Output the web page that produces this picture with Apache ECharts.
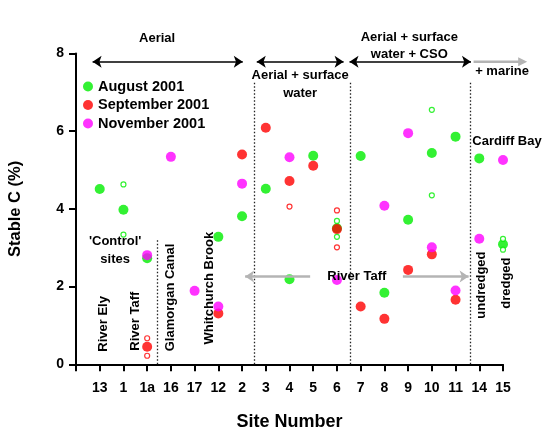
<!DOCTYPE html>
<html><head><meta charset="utf-8">
<script src="https://cdn.jsdelivr.net/npm/echarts@6/dist/echarts.min.js"></script>
<style>html,body{margin:0;padding:0;background:#fff}#c{width:544px;height:430px}</style>
</head><body><div id="c"></div>
<script>
// ---- data ----
const categories = ['13','1','1a','16','17','12','2','3','4','5','6','7','8','9','10','11','14','15'];
const yTicks = [0, 2, 4, 6, 8];
const augFilled = [['13',4.51],['1',3.98],['1a',2.73],['12',3.28],['2',3.81],['3',4.52],['4',2.19],['5',5.37],['6',3.50],['7',5.36],['8',1.84],['9',3.72],['10',5.44],['11',5.86],['14',5.30],['15',3.09]];
const augHollow = [['1',4.63],['1',3.34],['6',3.69],['6',3.28],['10',6.55],['10',4.35],['15',3.23],['15',2.95]];
const sepFilled = [['1a',0.45],['12',1.31],['2',5.40],['3',6.09],['4',4.72],['5',5.11],['6',3.48],['7',1.49],['8',1.17],['9',2.43],['10',2.83],['11',1.66]];
const sepHollow = [['1a',0.67],['1a',0.22],['4',4.06],['6',3.96],['6',3.01]];
const novFilled = [['1a',2.81],['16',5.34],['17',1.89],['12',1.49],['2',4.65],['4',5.33],['6',2.17],['8',4.08],['9',5.95],['10',3.01],['11',1.90],['14',3.23],['15',5.26]];
const seriesNames = ['August 2001','September 2001','November 2001'];

const GREEN = '#00ee00', RED = '#ff0000', MAG = '#ff00ff', GRAY = '#b4b4b4';
const FONT = 'Liberation Sans, Arial, sans-serif';

const toXY = arr => arr.map(d => [categories.indexOf(d[0]) + 1, d[1]]);

// annotation layout (data coordinates)
const dividers = [[3.43, 3.24], [7.52, 7.27], [11.56, 7.27], [16.6, 7.27]];
const arrows = [
  {from:[0.70,7.79], to:[7.03,7.79], both:true, color:'#000'},
  {from:[7.62,7.79], to:[11.28,7.79], both:true, color:'#000'},
  {from:[11.53,7.79], to:[16.65,7.79], both:true, color:'#000'},
  {from:[9.87,2.26], to:[7.13,2.26], both:false, color:GRAY},
  {from:[13.78,2.26], to:[16.55,2.26], both:false, color:GRAY}
];
const outerArrow = {from:[16.76,7.79], to:[19.02,7.79], color:GRAY};
const notes = [
  {t:'Aerial', p:[3.42,8.40]},
  {t:'Aerial + surface\nwater', p:[9.45,7.20]},
  {t:'Aerial + surface\nwater + CSO', p:[14.05,8.20]},
  {t:'+ marine', p:[17.96,7.53]},
  {t:'Cardiff Bay', p:[18.17,5.73]},
  {t:"'Control'\nsites", p:[1.65,2.93]},
  {t:'River Taff', p:[11.84,2.25]},
  {t:'River Ely', p:[1.15,1.04], r:true},
  {t:'River Taff', p:[2.49,1.11], r:true},
  {t:'Glamorgan Canal', p:[3.97,1.72], r:true},
  {t:'Whitchurch Brook', p:[5.61,1.96], r:true},
  {t:'undredged', p:[17.09,2.04], r:true},
  {t:'dredged', p:[18.13,2.09], r:true}
];

const markLineData = [];
dividers.forEach(d => markLineData.push([
  {coord:[d[0],0], symbol:'none', lineStyle:{color:'#222', width:1.3, type:[1.5,2]}},
  {coord:[d[0],d[1]], symbol:'none'}
]));
arrows.forEach(a => markLineData.push([
  {coord:a.from, symbol:a.both?'arrow':'none', symbolSize:9, lineStyle:{color:a.color, width:a.color==='#000'?1.5:2.5, type:'solid'}},
  {coord:a.to, symbol:'arrow', symbolSize:9}
]));

const filledStyle = c => ({color:c, borderWidth:0});
const hollowStyle = c => ({color:'#fff', borderColor:c, borderWidth:1.2});

const option = {
  animation:false,
  backgroundColor:'#fff',
  grid:{left:76, right:41, top:53.5, bottom:65.7, containLabel:false, outerBoundsMode:'none'},
  legend:{
    data:seriesNames, orient:'vertical', left:78, top:74, itemWidth:10, itemHeight:10, itemGap:3.5,
    icon:'circle', textStyle:{fontFamily:FONT, fontWeight:'bold', fontSize:14.5, color:'#000'},
    selectedMode:false
  },
  xAxis:{
    type:'value', min:0, max:18, interval:1,
    name:'Site Number', nameLocation:'middle', nameGap:49,
    nameTextStyle:{fontFamily:FONT, fontWeight:'bold', fontSize:18, color:'#000'},
    axisLine:{show:true, onZero:false, lineStyle:{color:'#000', width:2}},
    axisTick:{show:true, length:7, lineStyle:{color:'#000', width:2}},
    axisLabel:{fontFamily:FONT, fontWeight:'bold', fontSize:14, color:'#000', margin:17,
      formatter:v => (v>=1 && v<=categories.length) ? categories[v-1] : ''},
    splitLine:{show:false}
  },
  yAxis:{
    type:'value', min:yTicks[0], max:yTicks[yTicks.length-1], interval:2,
    name:'Stable C (%)', nameLocation:'middle', nameGap:52,
    nameTextStyle:{fontFamily:FONT, fontWeight:'bold', fontSize:16.5, color:'#000'},
    axisLine:{show:true, lineStyle:{color:'#000', width:2}},
    axisTick:{show:true, length:7, lineStyle:{color:'#000', width:2}},
    axisLabel:{fontFamily:FONT, fontWeight:'bold', fontSize:14, color:'#000', margin:12},
    splitLine:{show:false}
  },
  series:[
    {name:seriesNames[0], type:'scatter', symbolSize:10, data:toXY(augFilled), itemStyle:filledStyle(GREEN), z:2},
    {name:seriesNames[1], type:'scatter', symbolSize:10, data:toXY(sepFilled), itemStyle:filledStyle(RED), z:3},
    {name:seriesNames[2], type:'scatter', symbolSize:10, data:toXY(novFilled), itemStyle:filledStyle(MAG), z:4},
    {name:'aug-rep', type:'scatter', symbolSize:5, data:toXY(augHollow), itemStyle:hollowStyle(GREEN), z:5},
    {name:'sep-rep', type:'scatter', symbolSize:5, data:toXY(sepHollow), itemStyle:hollowStyle(RED), z:5},
    {name:'annot', type:'line', data:[], clip:false, silent:true,
      markLine:{silent:true, animation:false, label:{show:false}, emphasis:{disabled:true}, data:markLineData}}
  ]
};

const chart = echarts.init(document.getElementById('c'));
chart.setOption(option);
const px = p => chart.convertToPixel({gridIndex:0}, p);
const g = notes.map(n => {
  const p = px(n.p);
  return {type:'text', x:p[0], y:p[1], rotation:n.r?Math.PI/2:0, silent:true, z:10,
    style:{text:n.t, fill:'#000', fontFamily:FONT, fontWeight:'bold', fontSize:13, lineHeight:17.5,
      align:'center', verticalAlign:'middle', textAlign:'center', textVerticalAlign:'middle'}};
});
// arrow that runs past the end of the axis
const a0 = px(outerArrow.from), a1 = px(outerArrow.to);
g.push({type:'line', silent:true, z:10, shape:{x1:a0[0], y1:a0[1], x2:a1[0]-8, y2:a1[1]},
  style:{stroke:outerArrow.color, lineWidth:2.5}});
g.push({type:'polygon', silent:true, z:10, shape:{points:[[a1[0],a1[1]],[a1[0]-9,a1[1]-4.5],[a1[0]-9,a1[1]+4.5]]},
  style:{fill:outerArrow.color}});
chart.setOption({graphic:g});
</script></body></html>
